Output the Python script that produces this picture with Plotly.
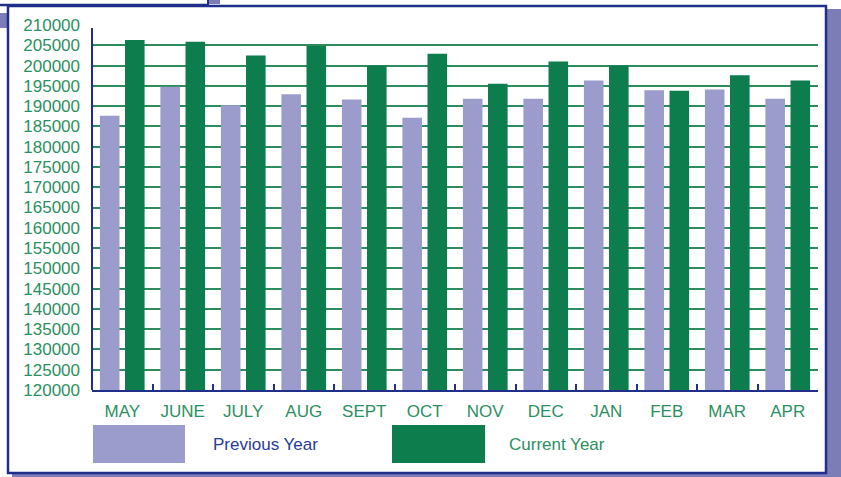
import plotly.graph_objects as go

months = ["MAY", "JUNE", "JULY", "AUG", "SEPT", "OCT", "NOV", "DEC", "JAN", "FEB", "MAR", "APR"]
previous_year = [187600, 194800, 190200, 192900, 191600, 187100, 191800, 191800, 196300, 193900, 194100, 191800]
current_year = [206300, 205900, 202500, 204800, 200000, 202900, 195500, 201000, 200000, 193800, 197600, 196300]
y_ticks = list(range(120000, 210001, 5000))
grid_ticks = y_ticks[:-1]
series_names = ["Previous Year", "Current Year"]

PURPLE = "#9c9ccc"
GREEN = "#0e7d4e"
NAVY = "#1f2f8a"
TXTGREEN = "#2c8f62"
SHADOW = "#7c7cb6"
FONT = "Liberation Sans, Arial, sans-serif"

W, H = 841, 477
L, R, T, B = 92, 818, 25, 390

def px(x):
    return (x - L) / (R - L)

def py(y):
    return (B - y) / (B - T)

fig = go.Figure()
fig.add_trace(go.Bar(x=months, y=previous_year, name=series_names[0], marker=dict(color=PURPLE, line=dict(width=0)), showlegend=False))
fig.add_trace(go.Bar(x=months, y=current_year, name=series_names[1], marker=dict(color=GREEN, line=dict(width=0)), showlegend=False))

shapes = []
# shadow
shapes.append(dict(type="rect", xref="paper", yref="paper", x0=px(827), x1=px(841), y0=py(9), y1=py(477), fillcolor=SHADOW, line=dict(width=0), layer="below"))
shapes.append(dict(type="rect", xref="paper", yref="paper", x0=px(12), x1=px(841), y0=py(474), y1=py(477), fillcolor=SHADOW, line=dict(width=0), layer="below"))
shapes.append(dict(type="rect", xref="paper", yref="paper", x0=px(0), x1=px(7), y0=py(13), y1=py(28), fillcolor=SHADOW, line=dict(width=0), layer="below"))
shapes.append(dict(type="rect", xref="paper", yref="paper", x0=px(209), x1=px(220), y0=py(0), y1=py(4), fillcolor=SHADOW, line=dict(width=0), layer="below"))
# frame
shapes.append(dict(type="rect", xref="paper", yref="paper", x0=px(8), x1=px(826), y0=py(6), y1=py(473), line=dict(color=NAVY, width=2.5), layer="below"))
shapes.append(dict(type="line", xref="paper", yref="paper", x0=px(0), x1=px(208), y0=py(5), y1=py(5), line=dict(color=NAVY, width=2.5)))
shapes.append(dict(type="line", xref="paper", yref="paper", x0=px(208), x1=px(208), y0=py(0), y1=py(5), line=dict(color=NAVY, width=2)))
# y axis line (starts slightly below the top, as in the reference)
shapes.append(dict(type="line", xref="paper", yref="paper", x0=0, x1=0, y0=0, y1=py(28), line=dict(color=NAVY, width=2), layer="above"))
# legend swatches
shapes.append(dict(type="rect", xref="paper", yref="paper", x0=px(93), x1=px(185), y0=py(425), y1=py(463), fillcolor=PURPLE, line=dict(width=0)))
shapes.append(dict(type="rect", xref="paper", yref="paper", x0=px(392), x1=px(485), y0=py(425), y1=py(463), fillcolor=GREEN, line=dict(width=0)))

annotations = [
    dict(text=series_names[0], xref="paper", yref="paper", x=px(211), y=py(444), xanchor="left", yanchor="middle", showarrow=False, font=dict(family=FONT, size=17, color="#2a3a9a")),
    dict(text=series_names[1], xref="paper", yref="paper", x=px(507), y=py(444), xanchor="left", yanchor="middle", showarrow=False, font=dict(family=FONT, size=17, color=TXTGREEN)),
]

fig.update_layout(
    width=W, height=H,
    margin=dict(l=L, r=W - R, t=T, b=H - B),
    paper_bgcolor="white", plot_bgcolor="white",
    barmode="group", bargap=0.17, bargroupgap=0.22,
    shapes=shapes, annotations=annotations,
    font=dict(family=FONT),
    xaxis=dict(
        range=[-0.5, len(months) - 0.5],
        showline=True, linecolor=NAVY, linewidth=2,
        ticks="inside", tickson="boundaries", ticklen=6, tickwidth=2, tickcolor=NAVY,
        tickfont=dict(family=FONT, size=17, color=TXTGREEN), ticklabelstandoff=5,
        showgrid=False,
    ),
    yaxis=dict(
        range=[120000, 210000], tickvals=grid_ticks, showticklabels=False,
        showline=False, showgrid=True, gridcolor="#2e8b5e", gridwidth=2,
        zeroline=False,
    ),
    yaxis2=dict(
        range=[120000, 210000], tickvals=y_ticks, tickformat="d", overlaying="y", side="left",
        anchor="x", showline=False, showgrid=False, zeroline=False,
        tickfont=dict(family=FONT, size=17, color=TXTGREEN), ticklabelstandoff=11,
    ),
)
# an empty trace so the label axis is rendered
fig.add_trace(go.Scatter(x=[months[0]], y=[None], yaxis="y2", showlegend=False, hoverinfo="skip", mode="markers"))

fig.write_html("out.html")
